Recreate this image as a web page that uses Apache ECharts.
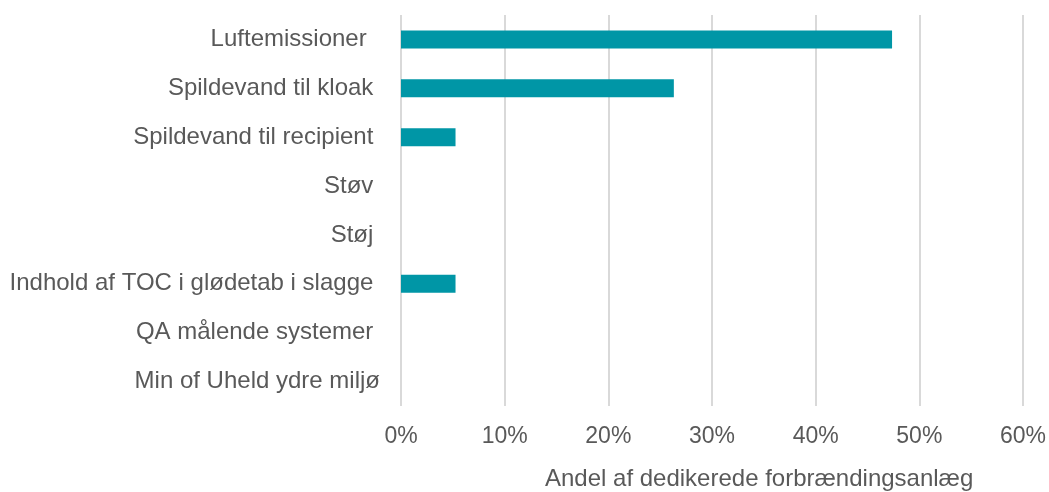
<!DOCTYPE html>
<html>
<head>
<meta charset="utf-8">
<script src="https://cdn.jsdelivr.net/npm/echarts@6/dist/echarts.min.js"></script>
<style>
  html, body { margin: 0; padding: 0; background: #fff; }
  #chart { width: 1049px; height: 492px; }
</style>
</head>
<body>
<div id="chart"></div>
<script>
const categories = [
  "Luftemissioner  ",
  "Spildevand til kloak ",
  "Spildevand til recipient ",
  "Støv ",
  "Støj ",
  "Indhold af TOC i glødetab i slagge ",
  "QA målende systemer ",
  "Min of Uheld ydre miljø"
];
const shares = [47.37, 26.32, 5.26, 0, 0, 5.26, 0, 0];
const axisTitle = "Andel af dedikerede forbrændingsanlæg";

const text = "#595959";
const grid = "#d9d9d9";
const font = "Liberation Sans, Arial, sans-serif";

const chart = echarts.init(document.getElementById("chart"));
chart.setOption({
  animation: false,
  textStyle: { fontFamily: font, color: text },
  grid: { left: 401, right: 25, top: 15, bottom: 86 },
  xAxis: {
    type: "value",
    min: 0,
    max: 60,
    interval: 10,
    axisLine: { show: false },
    axisTick: { show: false },
    axisLabel: { color: text, fontSize: 23, margin: 19, fontFamily: font, formatter: "{value}%" },
    splitLine: { lineStyle: { color: grid, width: 2 } }
  },
  yAxis: {
    type: "category",
    inverse: true,
    data: categories,
    axisLine: { show: false },
    axisTick: { show: false },
    axisLabel: { color: text, fontSize: 24, margin: 21, fontFamily: font }
  },
  graphic: [{
    type: "text",
    left: 545,
    top: 467,
    style: { text: axisTitle, fill: text, font: "24px " + font }
  }],
  series: [{
    type: "bar",
    data: shares,
    barWidth: 18,
    itemStyle: { color: "#0096a6" }
  }]
});
</script>
</body>
</html>
